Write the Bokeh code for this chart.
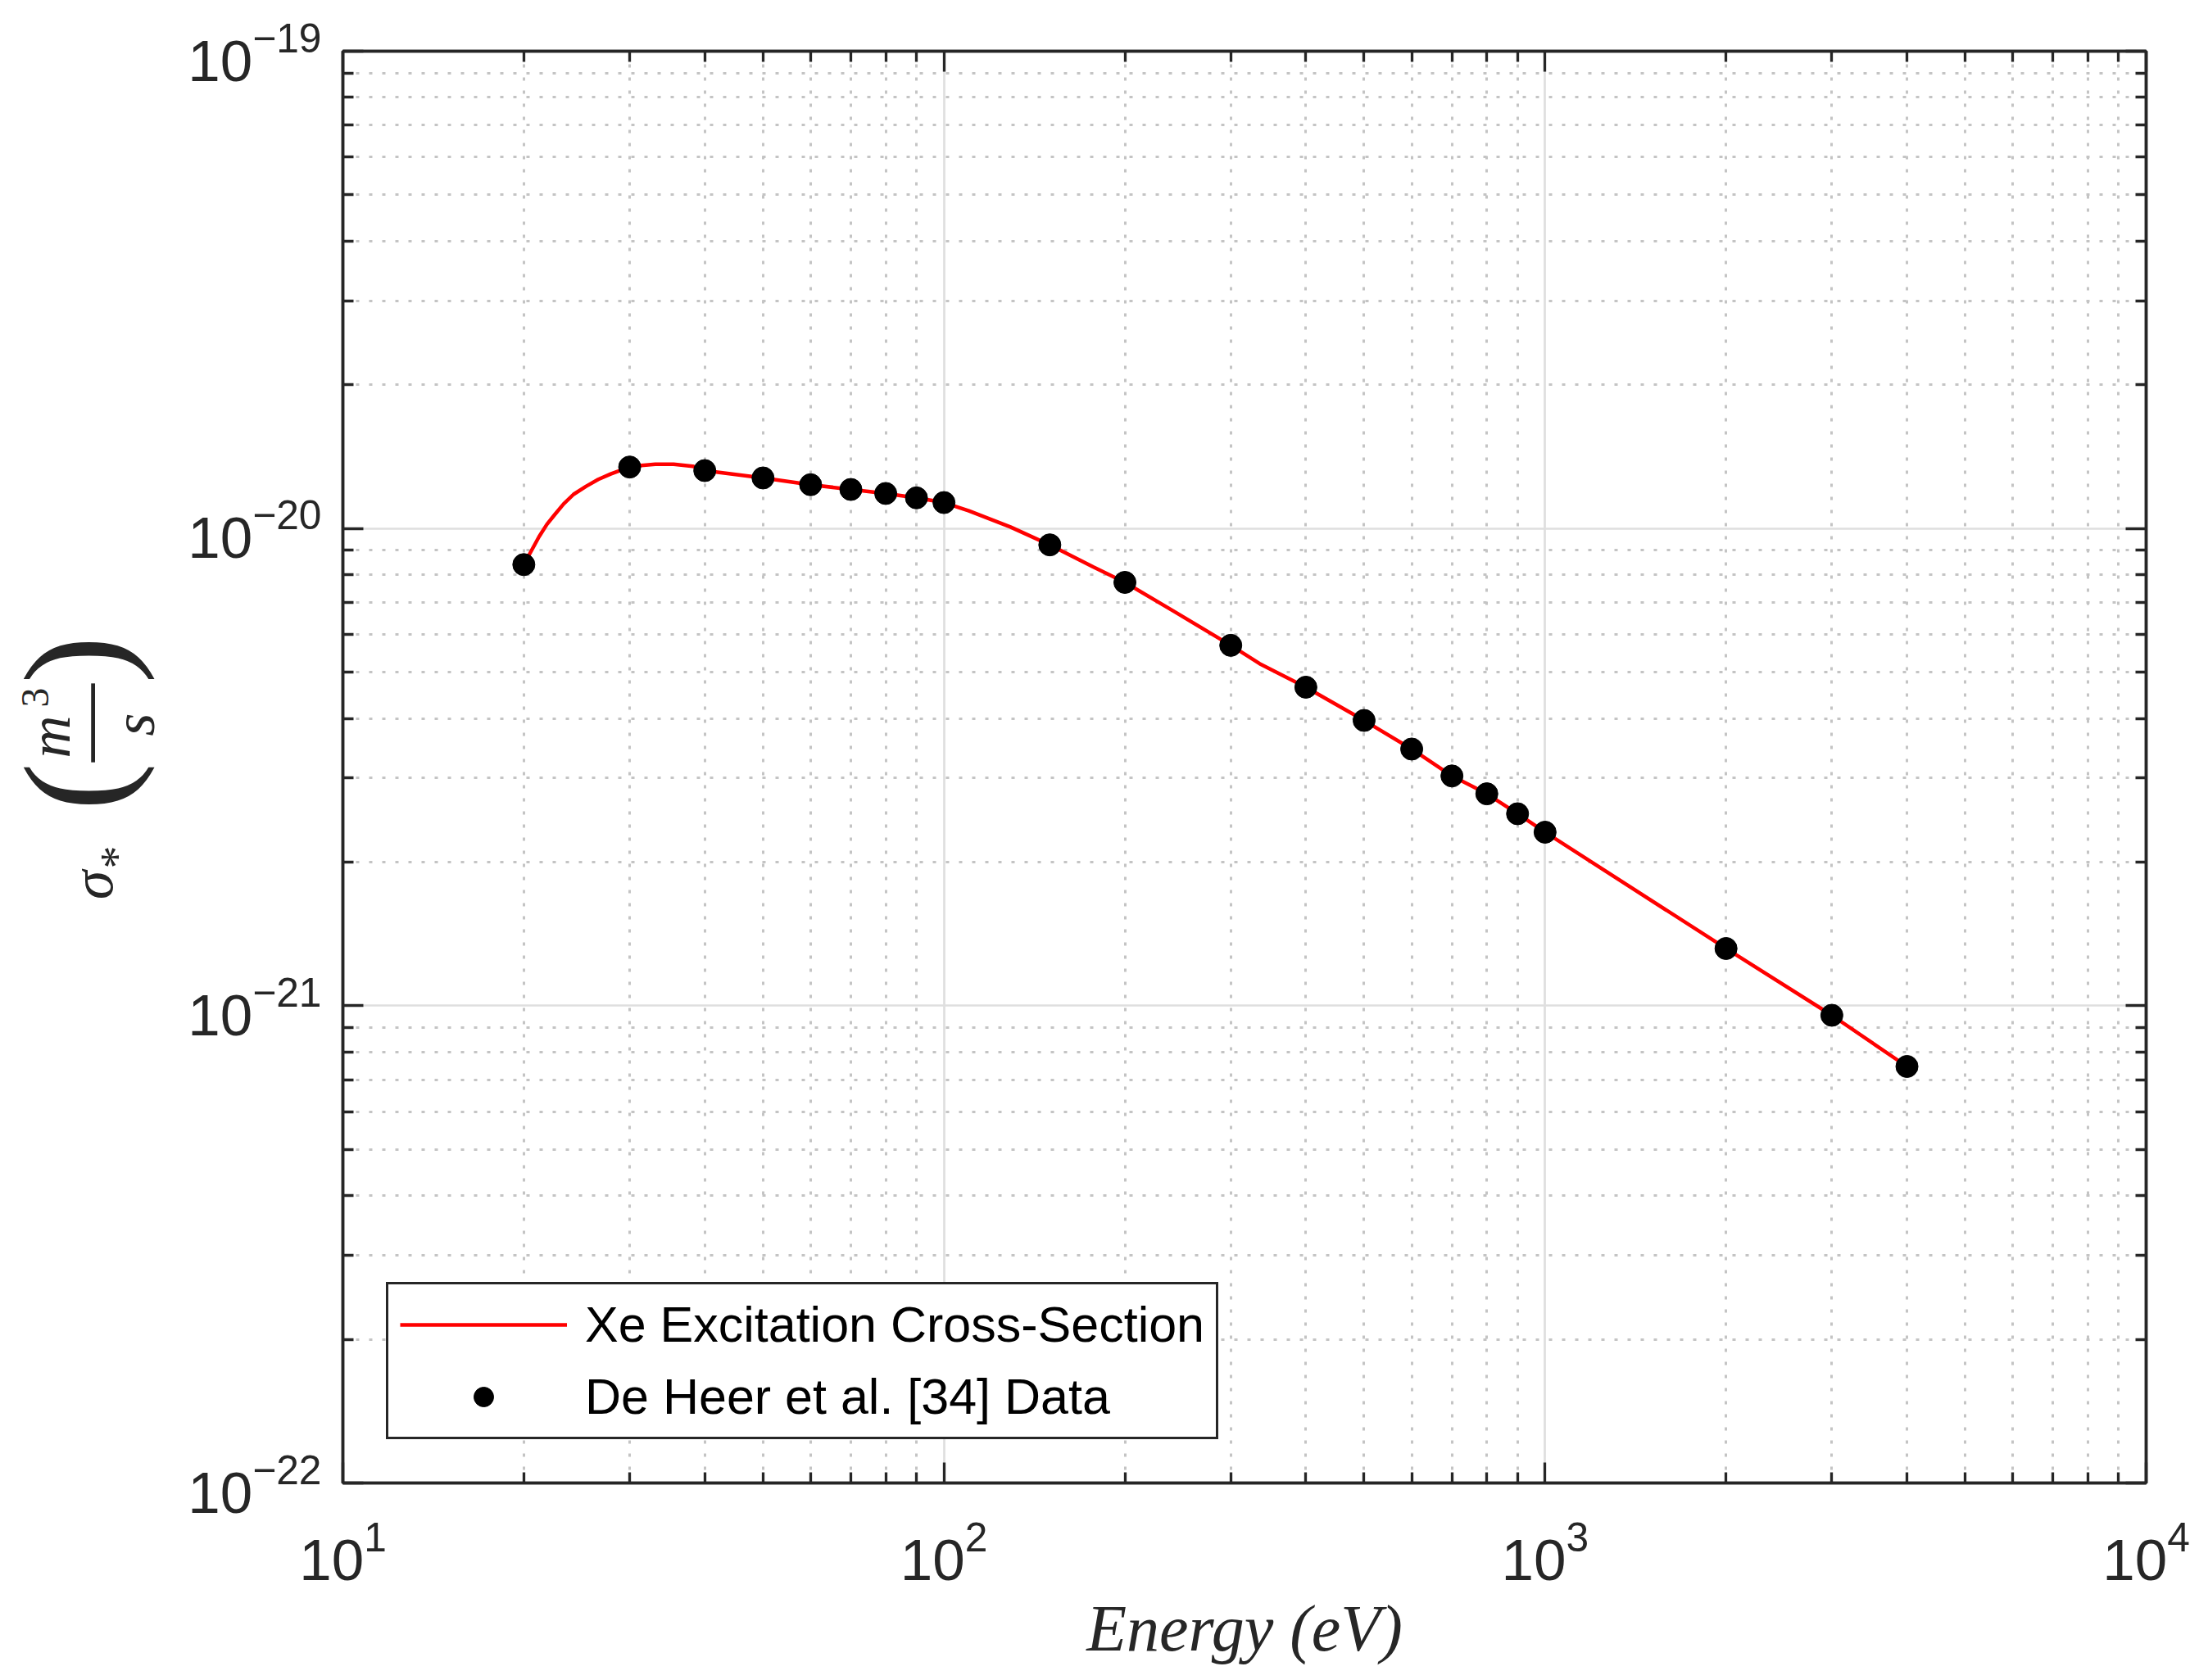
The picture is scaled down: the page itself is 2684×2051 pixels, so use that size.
import math

from bokeh.embed import file_html
from bokeh.layouts import row
from bokeh.models import (CustomJSTickFormatter, FixedTicker, Label, Legend,
                          LegendItem, LogAxis, Range1d)
from bokeh.plotting import figure
from bokeh.resources import INLINE

# De Heer et al. [34] measured points
data_energy = [20, 30, 40, 50, 60, 70, 80, 90, 100, 150, 200, 300, 400,
               500, 600, 700, 800, 900, 1000, 2000, 3000, 4000]
data_sigma = [8.40e-21, 1.345e-20, 1.322e-20, 1.276e-20, 1.235e-20, 1.207e-20,
              1.184e-20, 1.159e-20, 1.133e-20, 9.24e-21, 7.71e-21, 5.69e-21,
              4.65e-21, 3.96e-21, 3.45e-21, 3.03e-21, 2.78e-21, 2.525e-21,
              2.31e-21, 1.318e-21, 9.55e-22, 7.46e-22]

# Xe excitation cross-section curve
curve_energy = [20, 21.2, 21.85, 22.5, 23.3, 24.2, 25.4, 26.6, 27.9, 29.3,
                31.1, 33.1, 35.5, 38.2, 40, 50, 60, 70, 80, 90, 100, 110,
                129, 150, 177, 200, 242, 300, 335, 400, 500, 600, 700, 800,
                900, 1000, 2000, 3000, 4000]
curve_sigma = [8.40e-21, 9.61e-21, 1.020e-20, 1.068e-20, 1.126e-20, 1.179e-20,
               1.226e-20, 1.267e-20, 1.301e-20, 1.331e-20, 1.354e-20, 1.363e-20,
               1.363e-20, 1.350e-20, 1.322e-20, 1.276e-20, 1.235e-20, 1.207e-20,
               1.184e-20, 1.159e-20, 1.133e-20, 1.089e-20, 1.007e-20, 9.24e-21,
               8.31e-21, 7.71e-21, 6.69e-21, 5.69e-21, 5.21e-21, 4.65e-21,
               3.96e-21, 3.45e-21, 3.03e-21, 2.78e-21, 2.525e-21, 2.31e-21,
               1.318e-21, 9.55e-22, 7.46e-22]

x_ticks = [10, 100, 1000, 10000]
y_ticks = [1e-22, 1e-21, 1e-20, 1e-19]
x_minor = [m * t for t in x_ticks[:-1] for m in range(2, 10)]
y_minor = [m * t for t in y_ticks[:-1] for m in range(2, 10)]

AX = "#262626"
W, H = 2680, 2048
LABEL_W = 215                  # strip on the left that carries the y label
FRAME_TOP, FRAME_BOTTOM = 62, 1810

p = figure(width=W - LABEL_W, height=H, x_axis_type="log", y_axis_type="log",
           x_range=Range1d(10, 1e4), y_range=Range1d(1e-22, 1e-19),
           output_backend="svg", toolbar_location=None,
           min_border_left=418 - LABEL_W, min_border_right=W - 2619,
           min_border_top=FRAME_TOP, min_border_bottom=H - FRAME_BOTTOM)
p.background_fill_color = "white"
p.border_fill_color = "white"
p.outline_line_color = AX
p.outline_line_width = 3.5

bottom = p.below[0]
left = p.left[0]

xt = FixedTicker(ticks=x_ticks, minor_ticks=x_minor)
yt = FixedTicker(ticks=y_ticks, minor_ticks=y_minor)
bottom.ticker = xt
left.ticker = yt
p.xgrid.ticker = xt
p.ygrid.ticker = yt

# box axes on top and right: ticks only
blank = CustomJSTickFormatter(code="return ''")
top = LogAxis(ticker=xt, formatter=blank)
right = LogAxis(ticker=yt, formatter=blank)
p.add_layout(top, "above")
p.add_layout(right, "right")

for ax in [bottom, left, top, right]:
    ax.axis_line_color = AX
    ax.axis_line_width = 3.5
    ax.major_tick_line_color = AX
    ax.minor_tick_line_color = AX
    ax.major_tick_line_width = 3.3
    ax.minor_tick_line_width = 3.3
    ax.major_tick_in = 25
    ax.major_tick_out = 0
    ax.minor_tick_in = 13
    ax.minor_tick_out = 0
    ax.major_label_text_font = "Liberation Sans"
    ax.major_label_text_font_size = "71px"
    ax.major_label_text_color = AX

for ax in [top, right]:
    ax.major_label_text_font_size = "2px"
    ax.major_label_standoff = 0

left.major_label_standoff = 26
bottom.major_label_standoff = 46
bottom.axis_label = "Energy (eV)"
bottom.axis_label_text_font = "Liberation Serif"
bottom.axis_label_text_font_style = "italic"
bottom.axis_label_text_font_size = "80px"
bottom.axis_label_text_color = AX
bottom.axis_label_standoff = 12

p.grid.grid_line_color = "#dfdfdf"
p.grid.grid_line_width = 2.7
p.grid.minor_grid_line_color = "#c4c4c4"
p.grid.minor_grid_line_width = 3
p.grid.minor_grid_line_dash = "4 12"

curve = p.line(curve_energy, curve_sigma, line_color="#ff0000", line_width=4.5)
dots = p.scatter(data_energy, data_sigma, size=27,
                 fill_color="black", line_color="black")

legend = Legend(items=[LegendItem(label="Xe Excitation Cross-Section", renderers=[curve]),
                       LegendItem(label="De Heer et al. [34] Data", renderers=[dots])],
                location=(53, 53), margin=0, padding=14, spacing=18,
                glyph_width=204, glyph_height=60, label_height=60,
                label_standoff=22,
                label_text_font="Liberation Sans", label_text_font_size="61px",
                label_text_color="black",
                border_line_color=AX, border_line_width=3.5, border_line_alpha=1,
                background_fill_color="white", background_fill_alpha=1)
p.add_layout(legend)

# left strip: y label sigma_* (m^3 / s) built from rotated pieces.
# Its frame lines up with the main frame, so data units are page pixels.
lab = figure(width=LABEL_W, height=H, x_range=Range1d(0, LABEL_W),
             y_range=Range1d(FRAME_BOTTOM, FRAME_TOP), output_backend="svg",
             toolbar_location=None, min_border=0,
             x_axis_location=None, y_axis_location=None)
lab.outline_line_color = None
lab.grid.visible = False
lab.background_fill_color = "white"
lab.border_fill_color = "white"


def ylabel_piece(text, bx, cy, size, style="italic"):
    # bx: wanted baseline x, cy: centre y (page pixels); the anchor sits
    # about 0.41 em off the baseline once the text is turned
    lab.add_layout(Label(x=bx - 0.41 * size, y=cy, text=text,
                         angle=math.pi / 2, text_align="center",
                         text_baseline="alphabetic",
                         text_font="Liberation Serif", text_font_style=style,
                         text_font_size=f"{size}px", text_color=AX))


ylabel_piece("σ", 142, 1080, 72)
ylabel_piece("*", 165, 1046, 56, "normal")
ylabel_piece("(", 163, 960, 176, "normal")
ylabel_piece("m", 90, 899, 72)
ylabel_piece("3", 62, 851, 48, "normal")
ylabel_piece("—", 142, 882, 95, "normal")
ylabel_piece("s", 193, 884, 72)
ylabel_piece(")", 163, 805, 176, "normal")

open("out.html", "w").write(file_html(row(lab, p), INLINE))
